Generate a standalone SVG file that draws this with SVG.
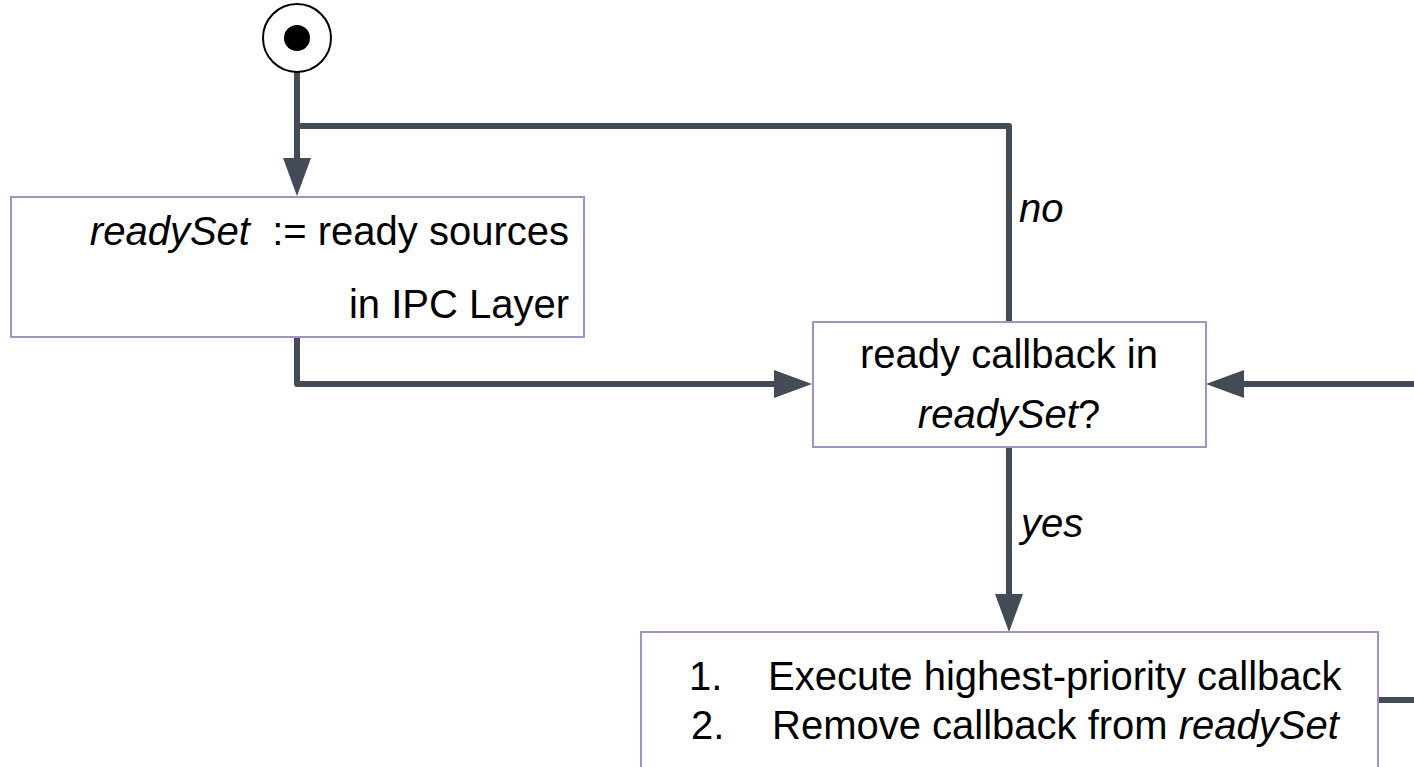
<svg xmlns="http://www.w3.org/2000/svg" width="1414" height="767" viewBox="0 0 1414 767">
  <style>
    .bg { fill: #ffffff; }
    .box { fill: #ffffff; stroke: #a590c4; stroke-width: 2; }
    .edge { fill: none; stroke: #434b57; stroke-width: 6; stroke-linejoin: round; }
    .lbl { font-family: "Liberation Sans", Arial, sans-serif; font-size: 40px; fill: #000000; white-space: pre; }
    .it { font-style: italic; }
  </style>
  <defs>
    <marker id="arrow" markerUnits="userSpaceOnUse" markerWidth="40" markerHeight="30" refX="0" refY="15" orient="auto" overflow="visible">
      <path d="M0,1 L38,15 L0,29 Z" fill="#434b57"/>
    </marker>
  </defs>

  <rect class="bg" x="0" y="0" width="1414" height="767"/>

  <!-- connectors -->
  <g id="connectors">
    <path class="edge" d="M297,72 V158" marker-end="url(#arrow)"/>
    <path class="edge" d="M1009,322 V126 H297"/>
    <path class="edge" d="M297,337 V384 H774" marker-end="url(#arrow)"/>
    <path class="edge" d="M1414,384 H1244" marker-end="url(#arrow)"/>
    <path class="edge" d="M1009,447 V594" marker-end="url(#arrow)"/>
    <path class="edge" d="M1378,700 H1414"/>
    <text class="lbl it" x="1019" y="222">no</text>
    <text class="lbl it" x="1021" y="537">yes</text>
  </g>

  <!-- start node -->
  <g id="start">
    <circle cx="297" cy="38" r="34" fill="#ffffff" stroke="#000000" stroke-width="2"/>
    <circle cx="297" cy="38" r="13" fill="#000000"/>
  </g>

  <!-- collect ready sources -->
  <g id="collect">
    <rect class="box" x="11" y="197" width="573" height="140"/>
    <text class="lbl" x="569" y="245" text-anchor="end"><tspan class="it">readySet</tspan>  := ready sources</text>
    <text class="lbl" x="569" y="318" text-anchor="end">in IPC Layer</text>
  </g>

  <!-- decision -->
  <g id="decision">
    <rect class="box" x="813" y="322" width="393" height="125"/>
    <text class="lbl" x="1009" y="368" text-anchor="middle">ready callback in</text>
    <text class="lbl" x="1009" y="428" text-anchor="middle"><tspan class="it">readySet</tspan>?</text>
  </g>

  <!-- execute callback -->
  <g id="execute">
    <rect class="box" x="641" y="632" width="737" height="180"/>
    <text class="lbl" x="689" y="690">1.</text>
    <text class="lbl" x="768" y="690">Execute highest-priority callback</text>
    <text class="lbl" x="691" y="739">2.</text>
    <text class="lbl" x="772" y="739">Remove callback from <tspan class="it">readySet</tspan></text>
  </g>
</svg>
